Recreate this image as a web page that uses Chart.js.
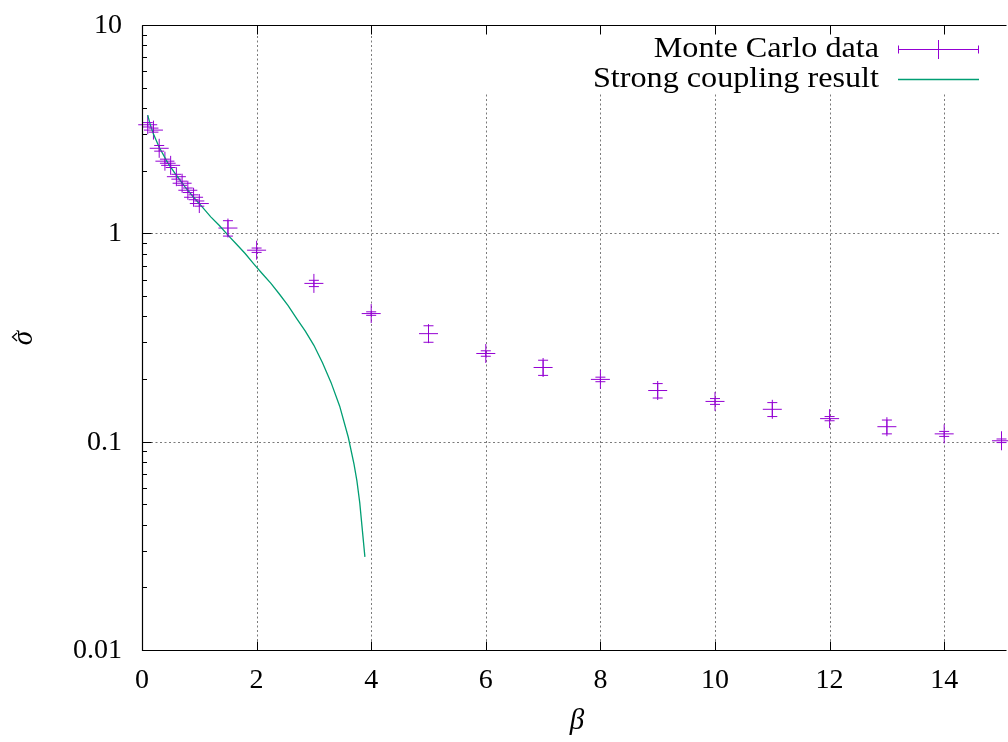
<!DOCTYPE html>
<html><head><meta charset="utf-8">
<style>
html,body{margin:0;padding:0;overflow:hidden;background:#fff;width:1008px;height:742px}
#wrap{width:1012px;height:742px}
canvas{display:block}
</style>
<script src="https://cdn.jsdelivr.net/npm/chart.js"></script>
</head><body><div id="wrap"><canvas id="c" width="1012" height="742"></canvas></div>
<script>
// ---- data ----
const mcBeta  = [0.1,0.2,0.3,0.4,0.5,0.6,0.7,0.8,0.9,1.0,1.5,2,3,4,5,6,7,8,9,10,11,12,13,14,15];
const mcSigma = [3.32,3.13,2.56,2.22,2.12,1.87,1.74,1.61,1.49,1.39,1.06,0.83,0.575,0.412,0.330,0.265,0.227,0.199,0.176,0.156,0.143,0.129,0.118,0.109,0.101];
const mcErr   = [0.08,0.07,0.08,0.05,0.05,0.05,0.04,0.04,0.04,0.04,0.09,0.02,0.02,0.008,0.03,0.008,0.019,0.005,0.014,0.005,0.011,0.003,0.009,0.003,0.002];

const scBeta  = [0.1,0.15,0.2,0.3,0.45,0.6,0.75,0.9,1.05,1.2,1.35,1.5,1.65,1.8,1.95,2.1,2.25,2.4,2.55,2.7,2.85,3.0,3.15,3.3,3.45,3.6,3.7,3.75,3.8,3.89];
const scSigma = [3.69,3.28,3.00,2.59,2.18,1.90,1.67,1.49,1.34,1.20,1.09,0.98,0.886,0.80,0.714,0.64,0.575,0.51,0.450,0.39,0.339,0.29,0.239,0.192,0.148,0.105,0.078,0.065,0.051,0.028];

const xTicks = [0,2,4,6,8,10,12,14];
const xTickLabels = ['0','2','4','6','8','10','12','14'];
const yTicks = [0.01,0.1,1,10];
const yTickLabels = ['0.01','0.1','1','10'];
const legendLabels = ['Monte Carlo data','Strong coupling result'];
const xTitle = 'β';
const yTitle = 'σ';

const PURPLE = '#9400d3', GREEN = '#009e73';
const SERIF = '"Liberation Serif","Times New Roman",serif';

function txt(ctx, s, x, y, align, sx){
  ctx.save(); ctx.translate(x,y); ctx.scale(sx||1,1);
  ctx.textAlign = align; ctx.textBaseline='alphabetic'; ctx.fillText(s,0,0); ctx.restore();
}

const gp = {
  id:'gp',
  beforeDatasetsDraw(chart){
    const ctx = chart.ctx, xs = chart.scales.x, ys = chart.scales.y, a = chart.chartArea;
    ctx.save();
    ctx.strokeStyle = '#7a7a7a'; ctx.lineWidth = 1; ctx.setLineDash([2,2.5]);
    xTicks.forEach(v=>{ if(v===0) return;
      const px = Math.round(xs.getPixelForValue(v))+0.5;
      ctx.beginPath(); ctx.moveTo(px,a.bottom); ctx.lineTo(px,a.top); ctx.stroke(); });
    yTicks.forEach(v=>{ if(v===0.01||v===10) return;
      const py = Math.round(ys.getPixelForValue(v))+0.5;
      ctx.beginPath(); ctx.moveTo(a.left,py); ctx.lineTo(a.right,py); ctx.stroke(); });
    ctx.setLineDash([]);
    // opaque key box
    ctx.fillStyle = '#fff';
    ctx.fillRect(440, a.top+1, a.right-440+10, 68);
    ctx.restore();
  },
  afterDatasetsDraw(chart){
    const ctx = chart.ctx, xs = chart.scales.x, ys = chart.scales.y, a = chart.chartArea;
    ctx.save();
    // error bars
    ctx.strokeStyle = PURPLE; ctx.lineWidth = 1;
    mcBeta.forEach((b,i)=>{
      const px = xs.getPixelForValue(b);
      const lo = ys.getPixelForValue(mcSigma[i]-mcErr[i]);
      const hi = ys.getPixelForValue(mcSigma[i]+mcErr[i]);
      ctx.beginPath();
      ctx.moveTo(px,lo); ctx.lineTo(px,hi);
      ctx.moveTo(px-5,lo); ctx.lineTo(px+5,lo);
      ctx.moveTo(px-5,hi); ctx.lineTo(px+5,hi);
      ctx.stroke();
    });
    // borders
    ctx.strokeStyle = '#000'; ctx.lineWidth = 1.2;
    const L = Math.round(a.left)+0.5, B = Math.round(a.bottom)+0.5, T = Math.round(a.top)+0.5;
    ctx.beginPath();
    ctx.moveTo(L,T); ctx.lineTo(a.right+5,T);
    ctx.moveTo(L,T); ctx.lineTo(L,B); ctx.lineTo(a.right+5,B);
    ctx.stroke();
    // ticks
    ctx.lineWidth = 1;
    ctx.beginPath();
    xTicks.forEach(v=>{ const px = Math.round(xs.getPixelForValue(v))+0.5;
      ctx.moveTo(px,B); ctx.lineTo(px,B-9); ctx.moveTo(px,T); ctx.lineTo(px,T+9); });
    for(let d=-2; d<=0; d++){
      for(let m=1; m<=9; m++){
        const v = m*Math.pow(10,d);
        const py = Math.round(ys.getPixelForValue(v))+0.5;
        ctx.moveTo(L,py); ctx.lineTo(L+(m===1?9:4.5),py);
      }
    }
    const pyTop = Math.round(ys.getPixelForValue(10))+0.5;
    ctx.moveTo(L,pyTop); ctx.lineTo(L+9,pyTop);
    ctx.stroke();
    // tick labels
    ctx.fillStyle = '#000';
    ctx.font = '28px '+SERIF;
    xTicks.forEach((v,i)=> txt(ctx, xTickLabels[i], xs.getPixelForValue(v), 688, 'center'));
    yTicks.forEach((v,i)=> txt(ctx, yTickLabels[i], 122, ys.getPixelForValue(v)+8, 'right'));
    // axis titles
    ctx.font = 'italic 29px '+SERIF;
    txt(ctx, xTitle, 577, 729, 'center');
    ctx.save(); ctx.translate(32, 338); ctx.rotate(-Math.PI/2);
    txt(ctx, yTitle, 0, 0, 'center');
    // hat over sigma
    ctx.strokeStyle = '#000'; ctx.lineWidth = 1.3;
    ctx.beginPath(); ctx.moveTo(-3,-15); ctx.lineTo(1,-19.5); ctx.lineTo(5,-15); ctx.stroke();
    ctx.restore();
    // legend
    ctx.font = '29px '+SERIF;
    txt(ctx, legendLabels[0], 879, 57, 'right', 1.11);
    txt(ctx, legendLabels[1], 879, 87, 'right', 1.11);
    ctx.lineWidth = 1;
    ctx.strokeStyle = PURPLE;
    ctx.beginPath();
    ctx.moveTo(898,49.5); ctx.lineTo(979,49.5);
    ctx.moveTo(898.5,45.5); ctx.lineTo(898.5,53.5);
    ctx.moveTo(978.5,45.5); ctx.lineTo(978.5,53.5);
    ctx.moveTo(938.5,40); ctx.lineTo(938.5,59);
    ctx.stroke();
    ctx.strokeStyle = GREEN; ctx.lineWidth = 1.3;
    ctx.beginPath(); ctx.moveTo(898,79.5); ctx.lineTo(979,79.5); ctx.stroke();
    ctx.restore();
  }
};

new Chart(document.getElementById('c'), {
  type:'scatter',
  data:{ datasets:[
    { label:legendLabels[1], type:'line', order:0,
      data: scBeta.map((b,i)=>({x:b,y:scSigma[i]})),
      borderColor:GREEN, borderWidth:1.3, pointRadius:0, tension:0, fill:false },
    { label:legendLabels[0], order:1, clip:false,
      data: mcBeta.map((b,i)=>({x:b,y:mcSigma[i]})),
      pointStyle:'cross', pointRadius:9.5, pointHoverRadius:9.5,
      borderColor:PURPLE, backgroundColor:PURPLE, borderWidth:1, showLine:false }
  ]},
  options:{
    responsive:false, animation:false, devicePixelRatio:1,
    layout:{ padding:{ top:25, right:4, left:0, bottom:0 } },
    plugins:{ legend:{display:false}, tooltip:{enabled:false} },
    scales:{
      x:{ type:'linear', min:0, max:15,
          grid:{display:false}, border:{display:false}, ticks:{display:false},
          afterFit(s){ s.height = 92; } },
      y:{ type:'logarithmic', min:0.01, max:10,
          grid:{display:false}, border:{display:false}, ticks:{display:false},
          afterFit(s){ s.width = 142; } }
    }
  },
  plugins:[gp]
});
</script>
</body></html>
